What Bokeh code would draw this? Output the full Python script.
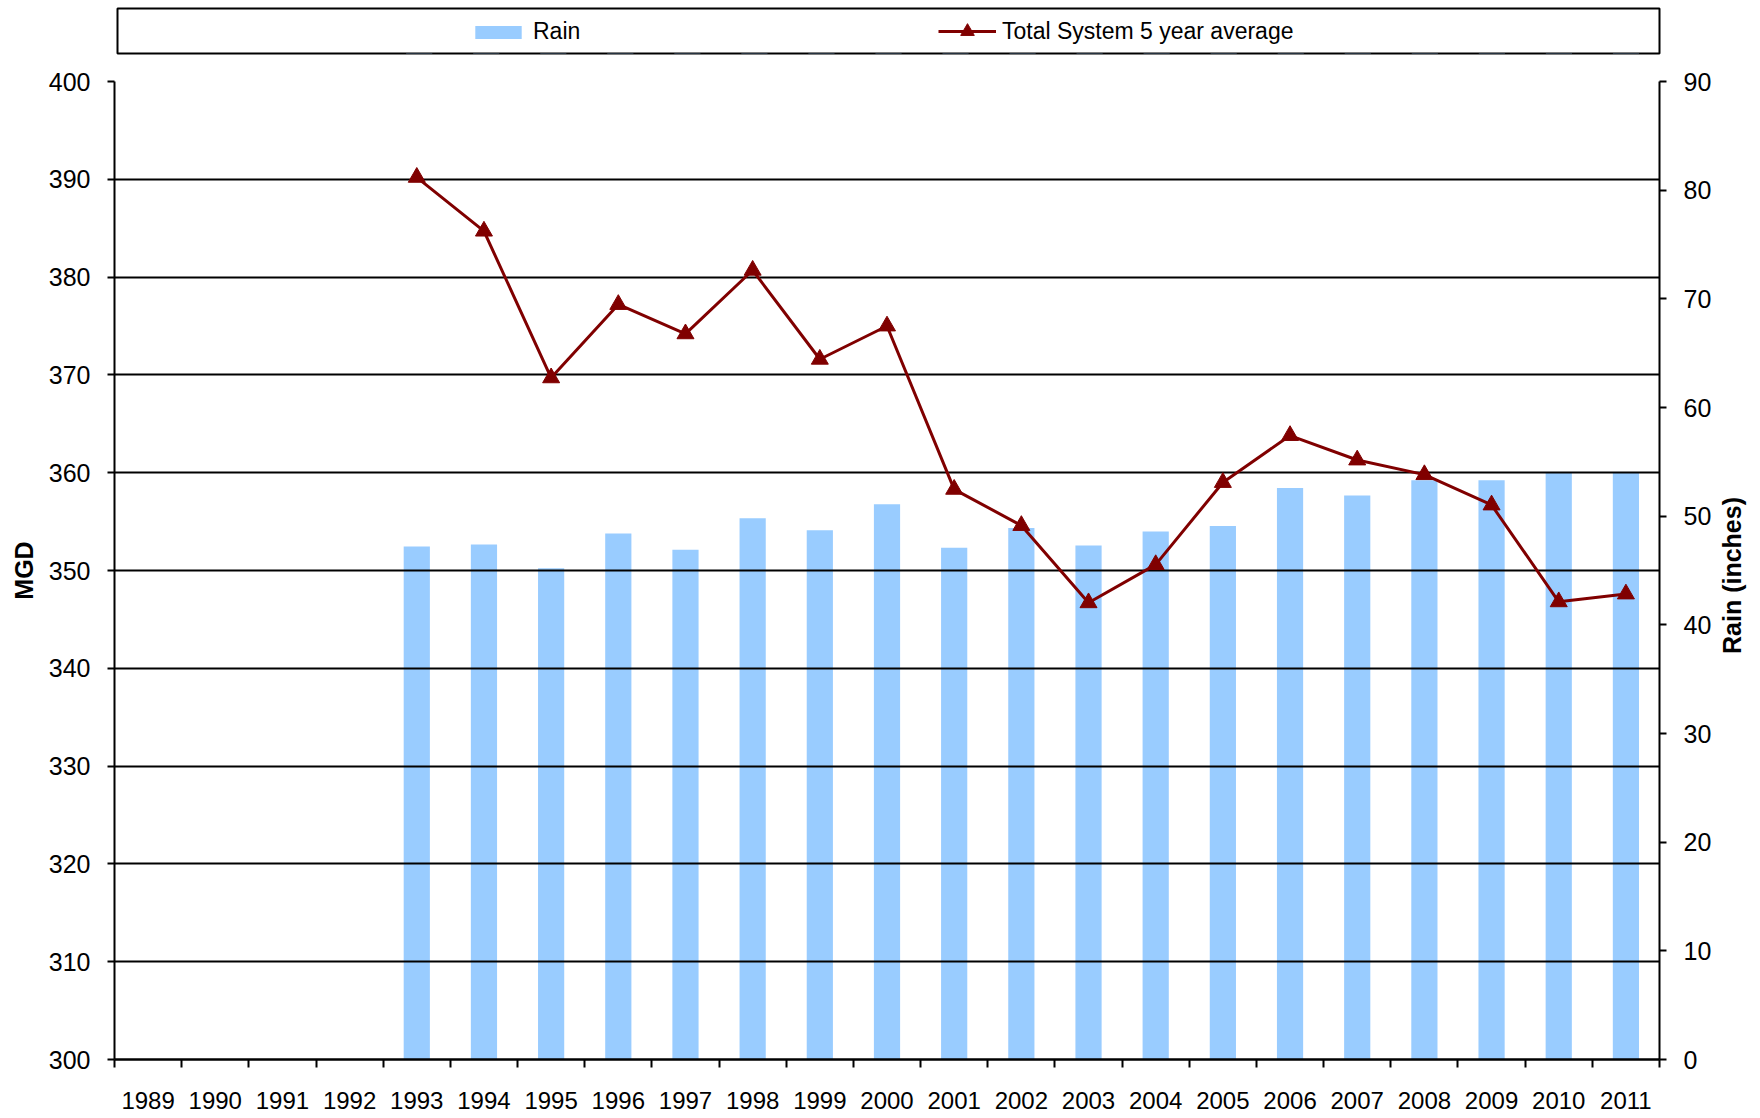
import math
from bokeh.plotting import figure
from bokeh.models import (Range1d, LinearAxis, FixedTicker, Legend, LegendItem, Label)
from bokeh.layouts import column, row
from bokeh.embed import file_html
from bokeh.resources import INLINE

# ---- data ----
years = list(range(1989, 2012))
year_labels = [str(y) for y in years]
series_years = list(range(1993, 2012))
rain_inches = [47.2, 47.4, 45.2, 48.4, 46.9, 49.8, 48.7, 51.1, 47.1, 48.9,
               47.3, 48.6, 49.1, 52.6, 51.9, 53.3, 53.3, 54.0, 54.0]
mgd_5yr_avg = [390.2, 384.7, 369.7, 377.2, 374.2, 380.7, 371.6, 375.0, 358.3,
               354.6, 346.7, 350.6, 359.0, 363.8, 361.3, 359.8, 356.7, 346.8, 347.6]
mgd_ticks = list(range(300, 401, 10))
rain_ticks = list(range(0, 91, 10))

FONT = "Liberation Sans"
BAR_COLOR = "#99CCFF"
LINE_COLOR = "#800000"

W, H_LEG, H_MAIN = 1760, 56, 1062
SIDE_W = 44
MAIN_W = W - SIDE_W
BL, BR, BT, BB = 114, MAIN_W - 1659, 25, 59

n = len(years)
centers = [i + 0.5 for i in range(n)]
bounds = [float(i) for i in range(n + 1)]
xs = [years.index(y) + 0.5 for y in series_years]

# ---- main figure ----
p = figure(width=MAIN_W, height=H_MAIN, output_backend="svg", toolbar_location=None,
           x_range=Range1d(0, n), y_range=Range1d(300, 400),
           min_border_left=BL, min_border_right=BR, min_border_top=BT,
           min_border_bottom=BB)
p.extra_y_ranges = {"rain": Range1d(0, 90)}
p.outline_line_color = None
p.background_fill_color = "white"
p.border_fill_color = "white"

bars = p.vbar(x=xs, top=rain_inches, bottom=0, width=0.39, y_range_name="rain",
              fill_color=BAR_COLOR, line_color=None, level="image")
line = p.line(xs, mgd_5yr_avg, line_color=LINE_COLOR, line_width=3)
pts = p.scatter(xs, mgd_5yr_avg, marker="triangle", size=17,
                fill_color=LINE_COLOR, line_color=LINE_COLOR)

# x axis
xa = p.xaxis[0]
xa.ticker = FixedTicker(ticks=centers, minor_ticks=bounds)
xa.major_label_overrides = {c: lab for c, lab in zip(centers, year_labels)}
xa.major_tick_out = 0
xa.major_tick_in = 0
xa.minor_tick_out = 8
xa.minor_tick_in = 0
xa.minor_tick_line_color = "black"
xa.minor_tick_line_width = 2
xa.axis_line_color = "black"
xa.axis_line_width = 2.5
xa.major_label_standoff = 24
xa.major_label_text_font = FONT
xa.major_label_text_font_size = "24px"
xa.major_label_text_color = "black"
p.xgrid.visible = False

# left axis
ya = p.yaxis[0]
ya.ticker = FixedTicker(ticks=mgd_ticks)
ya.axis_label = "MGD"
ya.axis_label_text_font = FONT
ya.axis_label_text_font_style = "bold"
ya.axis_label_text_font_size = "25px"
ya.axis_label_text_color = "black"
ya.axis_label_standoff = 8
ya.major_tick_out = 7
ya.major_tick_in = 0
ya.minor_tick_out = 0
ya.minor_tick_in = 0
ya.major_tick_line_color = "black"
ya.major_tick_line_width = 2
ya.axis_line_color = "black"
ya.axis_line_width = 2
ya.major_label_standoff = 17
ya.major_label_text_font = FONT
ya.major_label_text_font_size = "25px"
ya.major_label_text_color = "black"

p.ygrid.ticker = FixedTicker(ticks=mgd_ticks)
p.ygrid.grid_line_color = "black"
p.ygrid.grid_line_width = 2

# right axis
ra = LinearAxis(y_range_name="rain", ticker=FixedTicker(ticks=rain_ticks))
ra.major_tick_out = 7
ra.major_tick_in = 0
ra.minor_tick_out = 0
ra.minor_tick_in = 0
ra.major_tick_line_color = "black"
ra.major_tick_line_width = 2
ra.axis_line_color = "black"
ra.axis_line_width = 2
ra.major_label_standoff = 17
ra.major_label_text_font = FONT
ra.major_label_text_font_size = "25px"
ra.major_label_text_color = "black"
p.add_layout(ra, "right")

# ---- narrow strip holding the right-axis title (reads bottom-to-top) ----
# (the row aligns this strip's frame with the main plot's frame)
side = figure(width=SIDE_W, height=H_MAIN, output_backend="svg", toolbar_location=None,
              x_range=Range1d(0, 1), y_range=Range1d(0, 1),
              x_axis_type=None, y_axis_type=None,
              min_border_left=0, min_border_right=0, min_border_top=0,
              min_border_bottom=0)
side.outline_line_color = None
frame_h = H_MAIN - BT - BB
side.add_layout(Label(text="Rain (inches)", x=15, y=frame_h / 2 - 5,
                      x_units="screen", y_units="screen", angle=math.pi / 2,
                      text_align="center", text_baseline="middle",
                      text_font=FONT, text_font_style="bold",
                      text_font_size="25px", text_color="black"))

# ---- legend strip (boxed) ----
lg = figure(width=W, height=H_LEG, output_backend="svg", toolbar_location=None,
            x_range=Range1d(0, n), y_range=Range1d(1000, 1001),
            x_axis_type=None, y_axis_type=None,
            min_border_left=117, min_border_right=W - 1659, min_border_top=8,
            min_border_bottom=3)
lg.outline_line_color = "black"
lg.outline_line_width = 2
# same series, drawn outside the strip's visible range (only used for legend glyphs)
lg_bar = lg.vbar(x=xs, top=rain_inches, bottom=0, width=0.39,
                 fill_color=BAR_COLOR, line_color=None)
lg_line = lg.line(xs, mgd_5yr_avg, line_color=LINE_COLOR, line_width=3)
lg_pts = lg.scatter(xs, mgd_5yr_avg, marker="triangle", size=17,
                    fill_color=LINE_COLOR, line_color=LINE_COLOR)

common = dict(orientation="horizontal", padding=0, margin=0,
              glyph_width=58, label_standoff=6, label_height=23,
              label_text_font=FONT, label_text_font_size="23px",
              label_text_color="black",
              border_line_color=None, background_fill_alpha=0)
legend_rain = Legend(items=[LegendItem(label="Rain", renderers=[lg_bar])],
                     location=(352, 8), glyph_height=16, **common)
legend_line = Legend(items=[LegendItem(label="Total System 5 year average",
                                       renderers=[lg_line, lg_pts])],
                     location=(821, 5), glyph_height=34, **common)
lg.add_layout(legend_rain, "center")
lg.add_layout(legend_line, "center")

layout = column(lg, row(p, side, spacing=0), spacing=0)
open("out.html", "w").write(file_html(layout, INLINE))
